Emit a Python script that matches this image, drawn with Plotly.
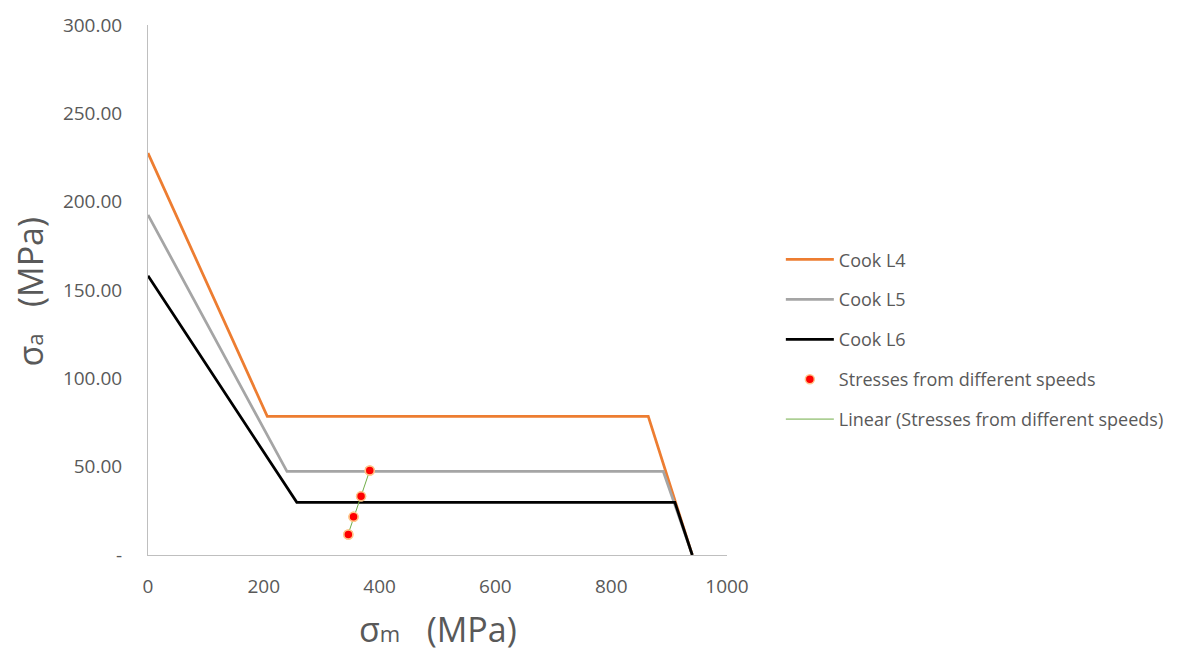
import numpy as np
import plotly.graph_objects as go

# Cook curves (sigma_m, sigma_a) in MPa
l4_x = [0, 206, 864, 940]
l4_y = [227.5, 78.5, 78.5, 0]
l5_x = [0, 240, 890, 940]
l5_y = [192.5, 47.3, 47.3, 0]
l6_x = [0, 257, 910, 940]
l6_y = [158, 29.8, 29.8, 0]

# Stresses from different speeds
pts_x = [346, 355, 368, 383]
pts_y = [11.6, 21.6, 33.2, 47.8]

y_tickvals = [0, 50, 100, 150, 200, 250, 300]
y_ticktext = ["-", "50.00", "100.00", "150.00", "200.00", "250.00", "300.00"]
x_tickvals = [0, 200, 400, 600, 800, 1000]

# linear trendline through the points
coef = np.polyfit(pts_x, pts_y, 1)
tx = np.array([min(pts_x), max(pts_x)])
ty = np.polyval(coef, tx)

FONT = "Open Sans"
GREY = "#595959"
MK = dict(color="#FF0000", size=9, line=dict(color="#FFC58A", width=1.5))

fig = go.Figure()
fig.add_trace(go.Scatter(x=l4_x, y=l4_y, mode="lines", name="Cook L4",
                         line=dict(color="#ED7D31", width=2.75), legendgroup="a"))
fig.add_trace(go.Scatter(x=l5_x, y=l5_y, mode="lines", name="Cook L5",
                         line=dict(color="#A5A5A5", width=2.75), legendgroup="b"))
fig.add_trace(go.Scatter(x=l6_x, y=l6_y, mode="lines", name="Cook L6",
                         line=dict(color="#000000", width=2.75), legendgroup="c"))
fig.add_trace(go.Scatter(x=pts_x, y=pts_y, mode="markers", name="Stresses from different speeds",
                         marker=MK, legendgroup="d"))
fig.add_trace(go.Scatter(x=tx, y=ty, mode="lines", name="Linear (Stresses from different speeds)",
                         line=dict(color="#70AD47", width=1), legendgroup="e"))
# redraw points above the trendline without legend entry
fig.add_trace(go.Scatter(x=pts_x, y=pts_y, mode="markers", showlegend=False,
                         marker=MK, hoverinfo="skip"))

fig.update_layout(
    width=1183, height=653,
    margin=dict(l=148, r=456, t=22, b=98),
    plot_bgcolor="white", paper_bgcolor="white",
    font=dict(family=FONT, color=GREY, size=19),
    showlegend=True,
    legend=dict(x=1.093, y=0.407, xanchor="left", yanchor="middle",
                font=dict(size=18, color=GREY), tracegroupgap=13.5,
                traceorder="grouped", itemwidth=48),
    xaxis=dict(range=[0, 1000], tickvals=x_tickvals, showgrid=False, zeroline=False,
               showline=True, linecolor="#BFBFBF", linewidth=1, ticks="",
               ticklabelstandoff=14, tickfont=dict(size=19, color=GREY)),
    yaxis=dict(range=[0, 300], tickvals=y_tickvals, ticktext=y_ticktext,
               showgrid=False, zeroline=False, showline=True, linecolor="#BFBFBF",
               linewidth=1, ticks="", ticklabelstandoff=21,
               tickfont=dict(size=19, color=GREY)),
    annotations=[
        dict(text="σ<span style='font-size:22px'>m</span>   (MPa)", xref="paper", yref="paper",
             x=(438 - 148) / 579, y=(555 - 629) / 533, xanchor="center", yanchor="middle",
             showarrow=False, font=dict(size=34, color=GREY, family=FONT)),
        dict(text="σ<span style='font-size:22px'>a</span>   (MPa)", xref="paper", yref="paper",
             x=(30 - 148) / 579, y=(555 - 290) / 533, xanchor="center", yanchor="middle",
             showarrow=False, textangle=-90, font=dict(size=34, color=GREY, family=FONT)),
    ],
)

fig.write_html("out.html")
